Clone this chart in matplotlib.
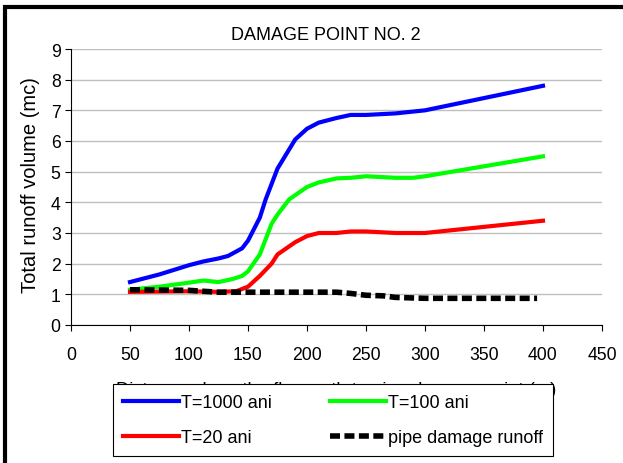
import matplotlib
matplotlib.use("Agg")
import matplotlib.pyplot as plt
from matplotlib.patches import Rectangle

plt.rcParams['font.family'] = ['Liberation Sans', 'DejaVu Sans']

# distances along flow path (m) and runoff volumes (mc)
x_1000 = [50, 75, 100, 112, 125, 133, 145, 150, 160, 165, 170, 175, 190, 200, 210, 225, 237, 250, 275, 300, 400]
y_1000 = [1.4, 1.65, 1.95, 2.07, 2.17, 2.25, 2.5, 2.75, 3.5, 4.1, 4.6, 5.1, 6.05, 6.4, 6.6, 6.75, 6.85, 6.85, 6.9, 7.0, 7.8]

x_100 = [50, 75, 100, 112, 125, 137, 145, 150, 160, 165, 170, 175, 185, 200, 210, 225, 237, 250, 275, 290, 300, 400]
y_100 = [1.15, 1.25, 1.38, 1.45, 1.4, 1.5, 1.6, 1.75, 2.3, 2.8, 3.3, 3.6, 4.1, 4.5, 4.65, 4.78, 4.8, 4.85, 4.8, 4.8, 4.85, 5.5]

x_20 = [50, 100, 125, 140, 150, 160, 170, 175, 190, 200, 210, 225, 237, 250, 275, 300, 400]
y_20 = [1.08, 1.1, 1.08, 1.1, 1.25, 1.6, 2.0, 2.3, 2.7, 2.9, 3.0, 3.0, 3.05, 3.05, 3.0, 3.0, 3.4]

x_pipe = [50, 100, 112, 125, 150, 200, 225, 237, 250, 265, 275, 300, 395]
y_pipe = [1.15, 1.13, 1.1, 1.07, 1.07, 1.07, 1.07, 1.03, 0.97, 0.95, 0.9, 0.87, 0.87]

fig = plt.figure(figsize=(6.23, 4.64), dpi=100)
ax = fig.add_axes([71 / 623, 1 - 326 / 464, 531 / 623, 276 / 464])

l1, = ax.plot(x_1000, y_1000, color='#0000ff', lw=3, zorder=3)
l2, = ax.plot(x_100, y_100, color='#00ff00', lw=3, zorder=3)
l3, = ax.plot(x_20, y_20, color='#ff0000', lw=3, zorder=3)
l4, = ax.plot(x_pipe, y_pipe, color='black', lw=4, ls=(0, (1.8, 0.8)), zorder=4)

ax.set_xlim(0, 450)
ax.set_ylim(0, 9)
ax.set_xticks(range(0, 451, 50))
ax.set_yticks(range(0, 10))
ax.yaxis.grid(True, color='#c0c0c0', lw=1)
ax.set_axisbelow(True)
for s in ['top', 'right']:
    ax.spines[s].set_visible(False)
ax.tick_params(direction='out', length=4, labelsize=12.7)
ax.tick_params(axis='x', pad=11)

ax.set_title('DAMAGE POINT NO. 2', fontsize=13, pad=7, x=0.48)
ax.set_xlabel('Distance along the flow path to pipe damage point (m)', fontsize=13.2)
ax.xaxis.set_label_coords(0.5, -0.233)
ax.xaxis.label.set_verticalalignment('center')
ax.set_ylabel('Total runoff volume (mc)', fontsize=14.5)
ax.yaxis.set_label_coords(-0.058, 0.51)

# column-wise fill: 1000 / 20 in first column, 100 / pipe in second
leg = ax.legend([l1, l3, l2, l4], ['T=1000 ani', 'T=20 ani', 'T=100 ani', 'pipe damage runoff'],
                loc='upper left', bbox_to_anchor=(113 / 623, 1 - 454 / 464, 440 / 623, 69 / 464),
                bbox_transform=fig.transFigure, mode='expand', ncol=2, fontsize=13,
                frameon=True, fancybox=False, edgecolor='black', framealpha=1,
                handlelength=3.1, handletextpad=0.1, borderpad=0.55, labelspacing=1.0,
                columnspacing=3.9, borderaxespad=0)
leg.get_frame().set_linewidth(0.8)
leg.set_zorder(10)

fig.patches.append(Rectangle((5 / 623, -0.05), 1.1, 1 - 8 / 464 + 0.05,
                             transform=fig.transFigure, fill=False,
                             edgecolor='black', lw=3))

fig.savefig('out.png', dpi=100)
